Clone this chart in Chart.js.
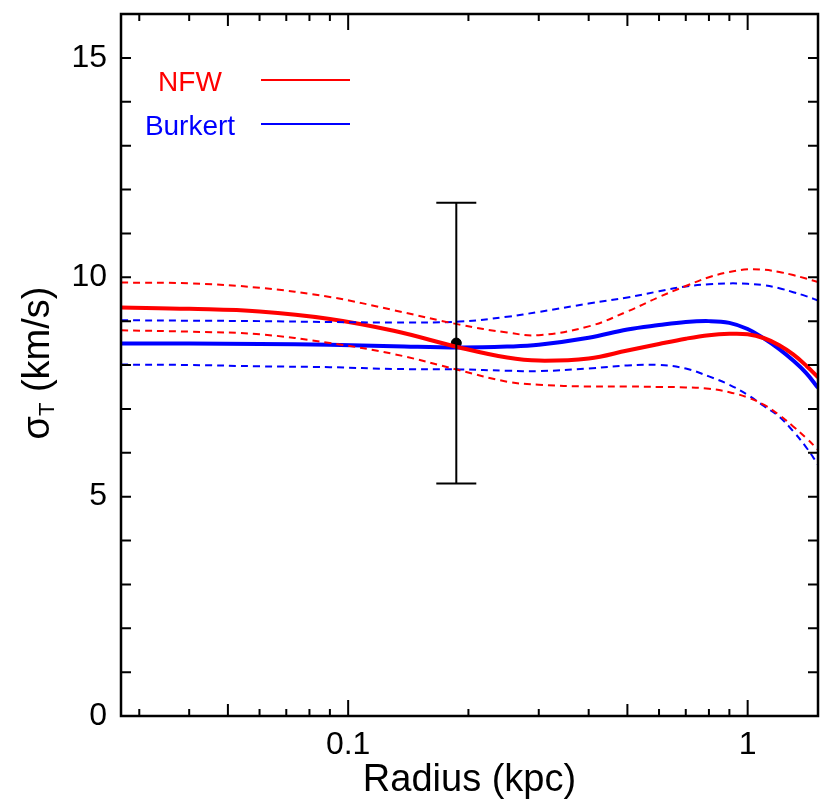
<!DOCTYPE html>
<html lang="en">
<head>
    <meta charset="UTF-8">
    <title>Velocity dispersion profile</title>
    <script src="https://cdn.jsdelivr.net/npm/chart.js"></script>
    <style>
        body {
            margin: 0;
            padding: 0;
            background-color: #ffffff;
        }
        #chart {
            display: block;
        }
    </style>
</head>
<body>
    <canvas id="chart" width="824" height="808"></canvas>

    <script>
        // Radius grid (kpc) shared by all model curves
        const radius = [0.027, 0.04, 0.06, 0.09, 0.13, 0.19, 0.25, 0.3, 0.4, 0.5, 0.6, 0.7, 0.8, 0.9, 1.0, 1.1, 1.2, 1.3, 1.4, 1.5];

        // sigma_T (km/s) model curves
        const nfw      = [9.31, 9.28, 9.22, 9.05, 8.78, 8.40, 8.17, 8.10, 8.15, 8.33, 8.48, 8.60, 8.68, 8.71, 8.70, 8.61, 8.45, 8.24, 7.99, 7.72];
        const nfwHi    = [9.88, 9.86, 9.76, 9.55, 9.25, 8.92, 8.74, 8.68, 8.88, 9.22, 9.55, 9.80, 10.00, 10.12, 10.18, 10.17, 10.12, 10.05, 9.97, 9.89];
        const nfwLo    = [8.79, 8.76, 8.70, 8.50, 8.25, 7.88, 7.62, 7.55, 7.51, 7.51, 7.50, 7.49, 7.46, 7.38, 7.26, 7.09, 6.86, 6.60, 6.34, 6.07];
        const burkert   = [8.49, 8.49, 8.48, 8.46, 8.43, 8.40, 8.42, 8.46, 8.62, 8.81, 8.91, 8.98, 9.00, 8.96, 8.82, 8.60, 8.36, 8.10, 7.82, 7.48];
        const burkertHi = [9.02, 9.01, 9.00, 8.98, 8.97, 8.99, 9.10, 9.21, 9.40, 9.54, 9.68, 9.79, 9.84, 9.86, 9.85, 9.82, 9.75, 9.66, 9.57, 9.47];
        const burkertLo = [8.01, 8.00, 7.97, 7.95, 7.91, 7.90, 7.87, 7.86, 7.92, 7.99, 8.00, 7.92, 7.74, 7.55, 7.32, 7.06, 6.82, 6.49, 6.13, 5.73];

        // Measured point with error bar
        const obsR = [0.1865];
        const obsSigma = [8.5];
        const obsLo = [5.3];
        const obsHi = [11.7];

        // Axis ticks
        const xTickVals = [0.03, 0.04, 0.05, 0.06, 0.07, 0.08, 0.09, 0.1, 0.2, 0.3, 0.4, 0.5, 0.6, 0.7, 0.8, 0.9, 1];
        const xLabelVals = [0.1, 1];
        const yLabelVals = [0, 5, 10, 15];

        const legendItems = [
            { text: 'NFW', color: '#ff0000' },
            { text: 'Burkert', color: '#0000ff' }
        ];

        const FONT = "'Liberation Sans', Arial, Helvetica, sans-serif";
        Chart.defaults.font.family = FONT;
        Chart.defaults.color = '#000';

        const toPoints = ys => radius.map((r, i) => ({ x: r, y: ys[i] }));

        function curve(label, ys, color, width, dash) {
            return {
                label: label,
                data: toPoints(ys),
                showLine: true,
                borderColor: color,
                borderWidth: width,
                borderDash: dash,
                pointRadius: 0,
                tension: 0.4
            };
        }

        // Frame, inward ticks, error bar, legend and y title
        const decorations = {
            id: 'decorations',
            afterDatasetsDraw(chart) {
                const { ctx, chartArea: a, scales: { x, y } } = chart;
                ctx.save();

                // error bar
                ctx.strokeStyle = '#000';
                ctx.lineWidth = 2;
                obsR.forEach((r, i) => {
                    const px = x.getPixelForValue(r);
                    const top = y.getPixelForValue(obsHi[i]);
                    const bot = y.getPixelForValue(obsLo[i]);
                    ctx.beginPath();
                    ctx.moveTo(px, top); ctx.lineTo(px, bot);
                    ctx.moveTo(px - 20, top); ctx.lineTo(px + 20, top);
                    ctx.moveTo(px - 20, bot); ctx.lineTo(px + 20, bot);
                    ctx.stroke();
                });

                // frame
                ctx.lineWidth = 2.5;
                ctx.strokeRect(a.left, a.top, a.right - a.left, a.bottom - a.top);

                // x ticks (bottom and top)
                ctx.lineWidth = 2;
                ctx.beginPath();
                xTickVals.forEach(v => {
                    const px = x.getPixelForValue(v);
                    let len = 7;
                    if (xLabelVals.includes(v)) len = 16;
                    else if (v === 0.05 || v === 0.5) len = 12;
                    ctx.moveTo(px, a.bottom); ctx.lineTo(px, a.bottom - len);
                    ctx.moveTo(px, a.top); ctx.lineTo(px, a.top + len);
                });
                // y ticks (left and right)
                for (let v = 1; v < 16; v++) {
                    const py = y.getPixelForValue(v);
                    ctx.moveTo(a.left, py); ctx.lineTo(a.left + 10, py);
                    ctx.moveTo(a.right, py); ctx.lineTo(a.right - 10, py);
                }
                ctx.stroke();

                // legend
                ctx.font = '28px ' + FONT;
                ctx.textAlign = 'center';
                ctx.textBaseline = 'alphabetic';
                legendItems.forEach((item, i) => {
                    const base = 91 + i * 44;
                    ctx.fillStyle = item.color;
                    ctx.fillText(item.text, 190, base);
                    ctx.strokeStyle = item.color;
                    ctx.lineWidth = 2;
                    ctx.beginPath();
                    ctx.moveTo(261, base - 11);
                    ctx.lineTo(350, base - 11);
                    ctx.stroke();
                });

                // y title with subscript
                const mainFont = '38px ' + FONT;
                const subFont = '22px ' + FONT;
                ctx.fillStyle = '#000';
                ctx.textAlign = 'left';
                ctx.font = mainFont;
                const wSigma = ctx.measureText('σ').width;
                const wRest = ctx.measureText(' (km/s)').width;
                ctx.font = subFont;
                const wSub = ctx.measureText('T').width;
                const total = wSigma + wSub + wRest;
                ctx.translate(49, 363);
                ctx.rotate(-Math.PI / 2);
                let cx = -total / 2;
                ctx.font = mainFont;
                ctx.fillText('σ', cx, 0);
                cx += wSigma;
                ctx.font = subFont;
                ctx.fillText('T', cx, 5);
                cx += wSub;
                ctx.font = mainFont;
                ctx.fillText(' (km/s)', cx, 0);

                ctx.restore();
            }
        };

        new Chart(document.getElementById('chart'), {
            type: 'scatter',
            data: {
                datasets: [
                    curve('NFW upper', nfwHi, '#ff0000', 2, [7, 5]),
                    curve('NFW lower', nfwLo, '#ff0000', 2, [7, 5]),
                    curve('Burkert upper', burkertHi, '#0000ff', 2, [7, 5]),
                    curve('Burkert lower', burkertLo, '#0000ff', 2, [7, 5]),
                    curve('NFW', nfw, '#ff0000', 4, []),
                    curve('Burkert', burkert, '#0000ff', 4, []),
                    {
                        label: 'Data',
                        data: obsR.map((r, i) => ({ x: r, y: obsSigma[i] })),
                        pointRadius: 5,
                        pointBackgroundColor: '#000',
                        pointBorderColor: '#000'
                    }
                ]
            },
            options: {
                responsive: false,
                animation: false,
                devicePixelRatio: 1,
                layout: { padding: { top: 14, right: 2, left: 0, bottom: 0 } },
                plugins: {
                    legend: { display: false },
                    tooltip: { enabled: false }
                },
                scales: {
                    x: {
                        type: 'logarithmic',
                        min: 0.027,
                        max: 1.5,
                        grid: { display: false, drawTicks: false },
                        border: { display: false },
                        afterBuildTicks: s => { s.ticks = xTickVals.map(v => ({ value: v })); },
                        afterFit: s => {
                            s.height = 92;
                            s.paddingLeft = 0;
                            s.paddingRight = 0;
                        },
                        ticks: {
                            autoSkip: false,
                            maxRotation: 0,
                            padding: 10,
                            color: '#000',
                            font: { size: 32 },
                            callback: v => xLabelVals.includes(v) ? String(v) : ''
                        },
                        title: {
                            display: true,
                            text: 'Radius (kpc)',
                            color: '#000',
                            font: { size: 38 },
                            padding: { top: 0, bottom: 5 }
                        }
                    },
                    y: {
                        min: 0,
                        max: 16,
                        grid: { display: false, drawTicks: false },
                        border: { display: false },
                        afterFit: s => {
                            s.width = 121;
                            s.paddingTop = 0;
                            s.paddingBottom = 0;
                        },
                        ticks: {
                            stepSize: 1,
                            autoSkip: false,
                            padding: 14,
                            color: '#000',
                            font: { size: 32 },
                            callback: v => yLabelVals.includes(v) ? String(v) : ''
                        }
                    }
                }
            },
            plugins: [decorations]
        });
    </script>
</body>
</html>
